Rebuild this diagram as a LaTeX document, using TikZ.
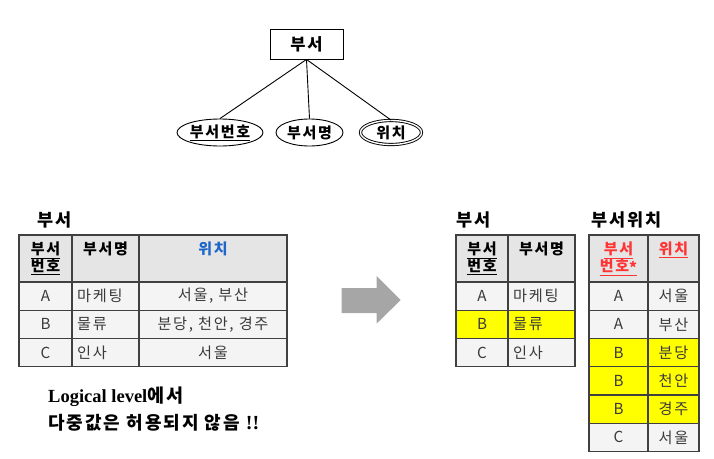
\documentclass[tikz,border=0pt]{standalone}
\usepackage{fontspec}
\setmainfont{Liberation Serif}
\newfontfamily\kr[LetterSpace=11]{Noto Sans CJK KR}
\usetikzlibrary{shapes.geometric}

\definecolor{gridline}{HTML}{404040}
\definecolor{headfill}{HTML}{E5E5E5}
\definecolor{bodyfill}{HTML}{F4F4F4}
\definecolor{hiyellow}{HTML}{FFFF00}
\definecolor{bodytext}{HTML}{3A3A3A}
\definecolor{keyblue}{HTML}{1F66C9}
\definecolor{keyred}{HTML}{FF3535}
\definecolor{arrowgray}{HTML}{A6A6A6}

\tikzset{
  entity/.style={draw, line width=0.9pt, minimum width=73pt, minimum height=30pt, inner sep=0pt,
                 font=\kr\bfseries\fontsize{16.5}{18}\selectfont},
  attr/.style={ellipse, draw, line width=0.9pt, minimum height=27pt, inner sep=0pt,
               font=\kr\bfseries\fontsize{15}{16}\selectfont},
  link/.style={line width=0.9pt},
  cell/.style={draw=gridline, line width=1.1pt, fill=bodyfill, inner sep=0pt, outer sep=0pt,
               anchor=north west, minimum height=28.25pt},
  headcell/.style={cell, fill=headfill, minimum height=47pt},
  hlcell/.style={cell, fill=hiyellow},
  body/.style={font=\kr\fontsize{15.2}{15}\selectfont, text=bodytext, inner sep=0pt},
  lbody/.style={body, anchor=west, xshift=5pt},
  headtxt/.style={font=\kr\bfseries\fontsize{15}{15.5}\selectfont, text=black, align=center,
                  anchor=north, inner sep=0pt, yshift=-7pt},
  title/.style={font=\kr\bfseries\fontsize{17.5}{19}\selectfont, anchor=west, inner sep=0pt},
  note/.style={anchor=west, inner sep=0pt},
}

\begin{document}
\begin{tikzpicture}[x=1pt,y=-1pt]
\useasboundingbox (0,0) rectangle (714,458);

% ---- ER diagram: entity with its attributes ----
\node[entity] (ent) at (306.5,44) {부서};
\node[attr, minimum width=86pt] (aNo) at (220,132.5) {\underline{부서번호}};
\node[attr, minimum width=67pt] (aName) at (309.5,132.5) {부서명};
\node[attr, double, double distance=1.4pt, minimum width=61pt, minimum height=24pt] (aLoc) at (391,132.5) {위치};
\draw[link] (ent.south) -- (aNo.north);
\draw[link] (ent.south) -- (aName.north);
\draw[link] (ent.south) -- (aLoc.north);

% ---- table with multi-valued column ----
\node[title] (tL) at (37,220) {부서};
\node[headcell, minimum width=53pt] (Lh1) at (19,235) {};
\node[headcell, minimum width=67pt] (Lh2) at (72,235) {};
\node[headcell, minimum width=148pt] (Lh3) at (139,235) {};
\node[headtxt] at (Lh1.north) {\underline{부서}\\\underline{번호}};
\node[headtxt] at (Lh2.north) {부서명};
\node[headtxt, text=keyblue] at (Lh3.north) {위치};

\node[cell, minimum width=53pt] (La1) at (19,282) {};
\node[cell, minimum width=67pt] (La2) at (72,282) {};
\node[cell, minimum width=148pt] (La3) at (139,282) {};
\node[cell, minimum width=53pt] (Lb1) at (19,310.25) {};
\node[cell, minimum width=67pt] (Lb2) at (72,310.25) {};
\node[cell, minimum width=148pt] (Lb3) at (139,310.25) {};
\node[cell, minimum width=53pt] (Lc1) at (19,338.5) {};
\node[cell, minimum width=67pt] (Lc2) at (72,338.5) {};
\node[cell, minimum width=148pt] (Lc3) at (139,338.5) {};

\node[body] at (La1.center) {A};
\node[lbody] at (La2.west) {마케팅};
\node[body] at (La3.center) {서울, 부산};
\node[body] at (Lb1.center) {B};
\node[lbody] at (Lb2.west) {물류};
\node[body] at (Lb3.center) {분당, 천안, 경주};
\node[body] at (Lc1.center) {C};
\node[lbody] at (Lc2.west) {인사};
\node[body] at (Lc3.center) {서울};

\node[note] (n1) at (48,397) {\bfseries\fontsize{18.5}{20}\selectfont Logical level{\kr 에서}};
\node[note] (n2) at (48,423) {\kr\bfseries\fontsize{18}{19}\selectfont 다중값은 허용되지 않음 {\rmfamily\fontsize{20}{20}\selectfont !!}};

% ---- transformation arrow ----
\fill[arrowgray] (341.7,288) -- (376.7,288) -- (376.7,276) -- (400.7,300)
  -- (376.7,323.5) -- (376.7,313) -- (341.7,313) -- cycle;

% ---- decomposed tables ----
\node[title] (tR1) at (456,220) {부서};
\node[headcell, minimum width=52pt] (Ph1) at (456,235) {};
\node[headcell, minimum width=67pt] (Ph2) at (508,235) {};
\node[headtxt] at (Ph1.north) {\underline{부서}\\\underline{번호}};
\node[headtxt] at (Ph2.north) {부서명};
\node[cell, minimum width=52pt] (Pa1) at (456,282) {};
\node[cell, minimum width=67pt] (Pa2) at (508,282) {};
\node[hlcell, minimum width=52pt] (Pb1) at (456,310.25) {};
\node[hlcell, minimum width=67pt] (Pb2) at (508,310.25) {};
\node[cell, minimum width=52pt] (Pc1) at (456,338.5) {};
\node[cell, minimum width=67pt] (Pc2) at (508,338.5) {};
\node[body] at (Pa1.center) {A};
\node[lbody] at (Pa2.west) {마케팅};
\node[body] at (Pb1.center) {B};
\node[lbody] at (Pb2.west) {물류};
\node[body] at (Pc1.center) {C};
\node[lbody] at (Pc2.west) {인사};

\node[title] (tR2) at (591,220) {부서위치};
\node[headcell, minimum width=59pt] (Qh1) at (589,235) {};
\node[headcell, minimum width=51pt] (Qh2) at (648,235) {};
\node[headtxt, text=keyred] at (Qh1.north) {\color{keyred}\underline{부서}\\\color{keyred}\underline{번호\raisebox{-2pt}{*}}};
\node[headtxt, text=keyred] at (Qh2.north) {\color{keyred}\underline{위치}};
\node[cell, minimum width=59pt] (Qa1) at (589,282) {};
\node[cell, minimum width=51pt] (Qa2) at (648,282) {};
\node[cell, minimum width=59pt] (Qb1) at (589,310.25) {};
\node[cell, minimum width=51pt] (Qb2) at (648,310.25) {};
\node[hlcell, minimum width=59pt] (Qc1) at (589,338.5) {};
\node[hlcell, minimum width=51pt] (Qc2) at (648,338.5) {};
\node[hlcell, minimum width=59pt] (Qd1) at (589,366.75) {};
\node[hlcell, minimum width=51pt] (Qd2) at (648,366.75) {};
\node[hlcell, minimum width=59pt] (Qe1) at (589,395) {};
\node[hlcell, minimum width=51pt] (Qe2) at (648,395) {};
\node[cell, minimum width=59pt] (Qf1) at (589,423.25) {};
\node[cell, minimum width=51pt] (Qf2) at (648,423.25) {};
\node[body] at (Qa1.center) {A};
\node[body] at (Qa2.center) {서울};
\node[body] at (Qb1.center) {A};
\node[body] at (Qb2.center) {부산};
\node[body] at (Qc1.center) {B};
\node[body] at (Qc2.center) {분당};
\node[body] at (Qd1.center) {B};
\node[body] at (Qd2.center) {천안};
\node[body] at (Qe1.center) {B};
\node[body] at (Qe2.center) {경주};
\node[body] at (Qf1.center) {C};
\node[body] at (Qf2.center) {서울};
\end{tikzpicture}
\end{document}
